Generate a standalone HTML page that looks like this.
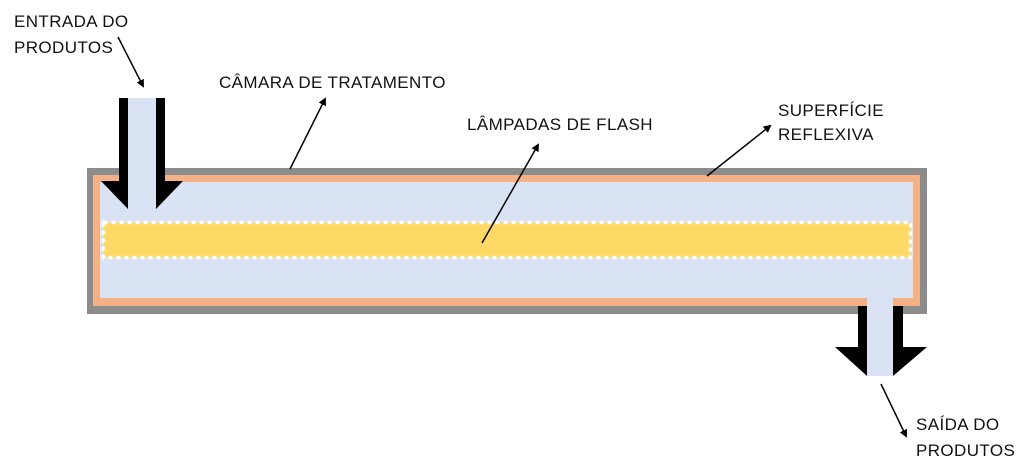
<!DOCTYPE html>
<html><head><meta charset="utf-8"><style>
html,body{margin:0;padding:0;background:#fff;width:1024px;height:474px;overflow:hidden}
svg{display:block}
text{font-family:"Liberation Sans",sans-serif;font-size:17px;letter-spacing:0.4px;fill:#111}
</style></head><body>
<svg width="1024" height="474" viewBox="0 0 1024 474">
<defs><marker id="a" markerWidth="8" markerHeight="8" refX="6" refY="4" orient="auto" markerUnits="userSpaceOnUse"><path d="M0,0 L8,4 L0,8 Z" fill="#000"/></marker></defs>
<rect x="87" y="168" width="840" height="146" fill="#8c8c8c"/>
<rect x="93" y="175" width="827" height="131" fill="#f4b183"/>
<rect x="100" y="182" width="813" height="116" fill="#dae3f3"/>
<rect x="103.5" y="222.5" width="807" height="35" fill="#ffd966" stroke="#fff" stroke-width="3.5" stroke-dasharray="4 4"/>
<!-- inlet -->
<rect x="128" y="98" width="28" height="111" fill="#dae3f3"/>
<rect x="119" y="98" width="9" height="83" fill="#000"/>
<rect x="156" y="98" width="9" height="83" fill="#000"/>
<polygon points="101,181 128,181 128,209" fill="#000"/>
<polygon points="156,181 183,181 156,209" fill="#000"/>
<!-- outlet -->
<rect x="867" y="298" width="26" height="78" fill="#dae3f3"/>
<rect x="858" y="306" width="9" height="42" fill="#000"/>
<rect x="893" y="306" width="10" height="42" fill="#000"/>
<polygon points="835,347 867,347 867,376" fill="#000"/>
<polygon points="893,347 927,347 893,376" fill="#000"/>
<!-- leaders -->
<g stroke="#000" stroke-width="1.5" marker-end="url(#a)">
<line x1="118" y1="37" x2="143" y2="86"/>
<line x1="290" y1="169" x2="325" y2="99"/>
<line x1="482" y1="243" x2="538" y2="145"/>
<line x1="707" y1="176" x2="770" y2="126"/>
<line x1="881" y1="384" x2="906" y2="436"/>
</g>
<text x="14" y="27">ENTRADA DO</text>
<text x="14" y="53">PRODUTOS</text>
<text x="219" y="88">CÂMARA DE TRATAMENTO</text>
<text x="467" y="130">LÂMPADAS DE FLASH</text>
<text x="778" y="116">SUPERFÍCIE</text>
<text x="778" y="140">REFLEXIVA</text>
<text x="916" y="430">SAÍDA DO</text>
<text x="916" y="456">PRODUTOS</text>
</svg>
</body></html>
